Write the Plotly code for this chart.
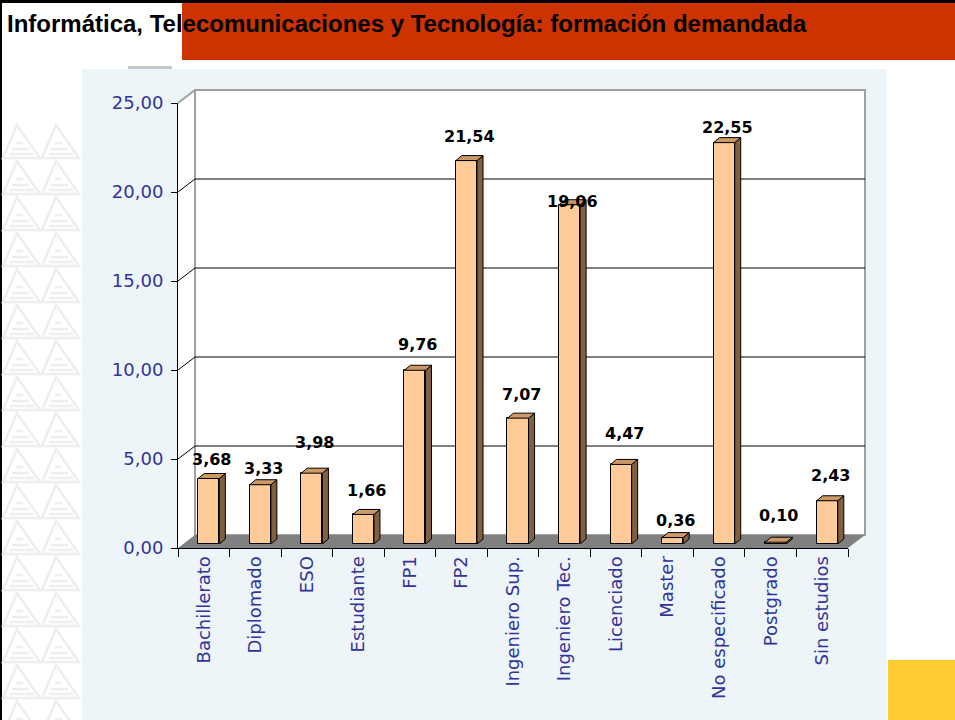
import plotly.graph_objects as go

# ---------------- data ----------------
categories = ["Bachillerato", "Diplomado", "ESO", "Estudiante", "FP1", "FP2",
              "Ingeniero Sup.", "Ingeniero Tec.", "Licenciado", "Master",
              "No especificado", "Postgrado", "Sin estudios"]
values = [3.68, 3.33, 3.98, 1.66, 9.76, 21.54, 7.07, 19.06, 4.47, 0.36, 22.55, 0.10, 2.43]
y_ticks = [0, 5, 10, 15, 20, 25]
title_text = "Informática, Telecomunicaciones y Tecnología: formación demandada"

# label vertical offsets (px above bar top), styling only
label_gap_px = [19, 16, 31, 24, 26, 24, 24, 3, 31, 17, 15, 27, 25]

# ---------------- layout geometry (pixels) ----------------
W, H = 955, 720
FX0, FX1 = 178, 848      # front x-axis extent
FY0, FYT = 548, 103      # front y of 0 and 25
DX, DY = 17, 13          # wall depth
BX, BY = 5, 4            # bar depth shift
SX, SY = 6, 5            # bar side depth
BAR_W = 0.41
ymax = 25

def px(x):
    return x / W

def py(y):
    return 1 - y / H

ux = (FX1 - FX0) / len(categories)
uy = (FY0 - FYT) / ymax

navy = "#333399"
fig = go.Figure()

# invisible trace to drive the front axes
fig.add_trace(go.Bar(x=categories, y=values, marker=dict(color="rgba(0,0,0,0)", line=dict(width=0)),
                     opacity=0, hoverinfo="skip", showlegend=False, xaxis="x", yaxis="y"))
# actual bars (front faces)
fig.add_trace(go.Bar(x=categories, y=values, width=BAR_W,
                     marker=dict(color="#FFCC99", line=dict(color="black", width=1)),
                     showlegend=False, xaxis="x2", yaxis="y2"))

shapes = []
# top black line and left black border
shapes.append(dict(type="rect", xref="paper", yref="paper", x0=0, x1=1, y0=py(3), y1=1,
                   fillcolor="black", line_width=0, layer="below"))
shapes.append(dict(type="rect", xref="paper", yref="paper", x0=0, x1=px(2), y0=0, y1=1,
                   fillcolor="black", line_width=0, layer="below"))
# orange banner
shapes.append(dict(type="rect", xref="paper", yref="paper", x0=px(182), x1=1, y0=py(60), y1=py(3),
                   fillcolor="#CC3300", line_width=0, layer="below"))
# watermark triangles
wm = "#EEEEEE"
for r in range(17):
    y = 125 + 36 * r
    for x in (3, 42):
        path = (f"M {px(x)},{py(y+33)} L {px(x+14)},{py(y)} L {px(x+37)},{py(y+33)} Z")
        shapes.append(dict(type="path", xref="paper", yref="paper", path=path,
                           line=dict(color=wm, width=2.5), layer="below"))
        for (yy, a, b) in ((y + 18, x + 13, x + 20), (y + 24, x + 9, x + 26), (y + 29, x + 7, x + 31)):
            shapes.append(dict(type="line", xref="paper", yref="paper", x0=px(a), x1=px(b),
                               y0=py(yy), y1=py(yy), line=dict(color=wm, width=2.5), layer="below"))
# hidden legend remnant
shapes.append(dict(type="rect", xref="paper", yref="paper", x0=px(128), x1=px(172), y0=py(69), y1=py(66),
                   fillcolor="#C8C8C8", line_width=0, layer="below"))
# light blue panel
shapes.append(dict(type="rect", xref="paper", yref="paper", x0=px(82), x1=px(887), y0=0, y1=py(69),
                   fillcolor="#EDF5F9", line_width=0, layer="below"))
# side wall (white)
shapes.append(dict(type="path", xref="paper", yref="paper",
                   path=f"M {px(FX0)},{py(FY0)} L {px(FX0)},{py(FYT)} L {px(FX0+DX)},{py(FYT-DY)} L {px(FX0+DX)},{py(FY0-DY)} Z",
                   fillcolor="white", line_width=0, layer="below"))
# back wall
shapes.append(dict(type="rect", xref="paper", yref="paper", x0=px(FX0 + DX), x1=px(FX1 + DX),
                   y0=py(FY0 - DY), y1=py(FYT - DY), fillcolor="white",
                   line=dict(color="#A0A0A0", width=2), layer="below"))
# side wall top edge
shapes.append(dict(type="line", xref="paper", yref="paper", x0=px(FX0), x1=px(FX0 + DX),
                   y0=py(FYT), y1=py(FYT - DY), line=dict(color="#A0A0A0", width=2), layer="below"))
# floor
shapes.append(dict(type="path", xref="paper", yref="paper",
                   path=f"M {px(FX0)},{py(FY0)} L {px(FX1)},{py(FY0)} L {px(FX1+DX)},{py(FY0-DY)} L {px(FX0+DX)},{py(FY0-DY)} Z",
                   fillcolor="#808080", line_width=0, layer="below"))
# gridlines on back & side walls
dyu = DY / uy
for v in y_ticks[1:-1]:
    shapes.append(dict(type="line", xref="paper", yref="y", x0=px(FX0 + DX), x1=px(FX1 + DX),
                       y0=v + dyu, y1=v + dyu, line=dict(color="black", width=1), layer="below"))
    shapes.append(dict(type="line", xref="paper", yref="y", x0=px(FX0), x1=px(FX0 + DX),
                       y0=v, y1=v + dyu, line=dict(color="black", width=1), layer="below"))

# bar side and top faces (from data through the x2/y2 scales)
dxu, dyb = SX / ux, SY / uy
for i, v in enumerate(values):
    r = i + BAR_W / 2
    l = i - BAR_W / 2
    shapes.append(dict(type="path", xref="x2", yref="y2",
                       path=f"M {r},0 L {r},{v} L {r+dxu},{v+dyb} L {r+dxu},{dyb} Z",
                       fillcolor="#806040", line=dict(color="black", width=1), layer="above"))
    shapes.append(dict(type="path", xref="x2", yref="y2",
                       path=f"M {l},{v} L {r},{v} L {r+dxu},{v+dyb} L {l+dxu},{v+dyb} Z",
                       fillcolor="#CC9966", line=dict(color="black", width=1), layer="above"))

# yellow block
shapes.append(dict(type="rect", xref="paper", yref="paper", x0=px(888), x1=1, y0=0, y1=py(660),
                   fillcolor="#FFCC33", line_width=0, layer="above"))

annotations = [dict(text=title_text, xref="paper", yref="paper", x=px(5), y=py(23),
                    xanchor="left", yanchor="middle", showarrow=False,
                    font=dict(family="Liberation Sans", size=24, color="black", weight="bold"))]
for i, v in enumerate(values):
    annotations.append(dict(text=f"{v:.2f}".replace(".", ","), xref="x2", yref="y2", x=i, y=v,
                            xshift=3, yshift=label_gap_px[i], showarrow=False,
                            xanchor="center", yanchor="middle",
                            font=dict(family="DejaVu Sans", size=16, color="black", weight="bold")))

fig.update_layout(
    width=W, height=H, margin=dict(l=0, r=0, t=0, b=0, pad=0, autoexpand=False),
    paper_bgcolor="white", plot_bgcolor="rgba(0,0,0,0)",
    separators=",.", bargap=0, showlegend=False,
    shapes=shapes, annotations=annotations,
    xaxis=dict(domain=[px(FX0), px(FX1)], type="category", range=[-0.5, len(categories) - 0.5],
               showgrid=False, zeroline=False, showline=True, linecolor="black", linewidth=1,
               ticks="outside", tickson="boundaries", ticklen=8, tickcolor="black",
               tickangle=-90, tickfont=dict(family="DejaVu Sans", size=18, color=navy),
               anchor="y", fixedrange=True, automargin=False),
    yaxis=dict(domain=[py(FY0), py(FYT)], range=[0, ymax], tickvals=y_ticks, tickformat=".2f",
               showgrid=False, zeroline=False, showline=True, linecolor="black", linewidth=1,
               ticks="outside", ticklen=6, tickcolor="black", ticklabelstandoff=4,
               tickfont=dict(family="DejaVu Sans", size=18, color=navy), anchor="x",
               fixedrange=True, automargin=False),
    xaxis2=dict(domain=[px(FX0 + BX), px(FX1 + BX)], type="category",
                range=[-0.5, len(categories) - 0.5], visible=False, anchor="y2",
                fixedrange=True, automargin=False),
    yaxis2=dict(domain=[py(FY0 - BY), py(FYT - BY)], range=[0, ymax], visible=False,
                anchor="x2", fixedrange=True, automargin=False),
)

fig.write_html("out.html", config={"displayModeBar": False},
               post_script="document.body.style.margin='0';document.body.style.overflow='hidden';")
